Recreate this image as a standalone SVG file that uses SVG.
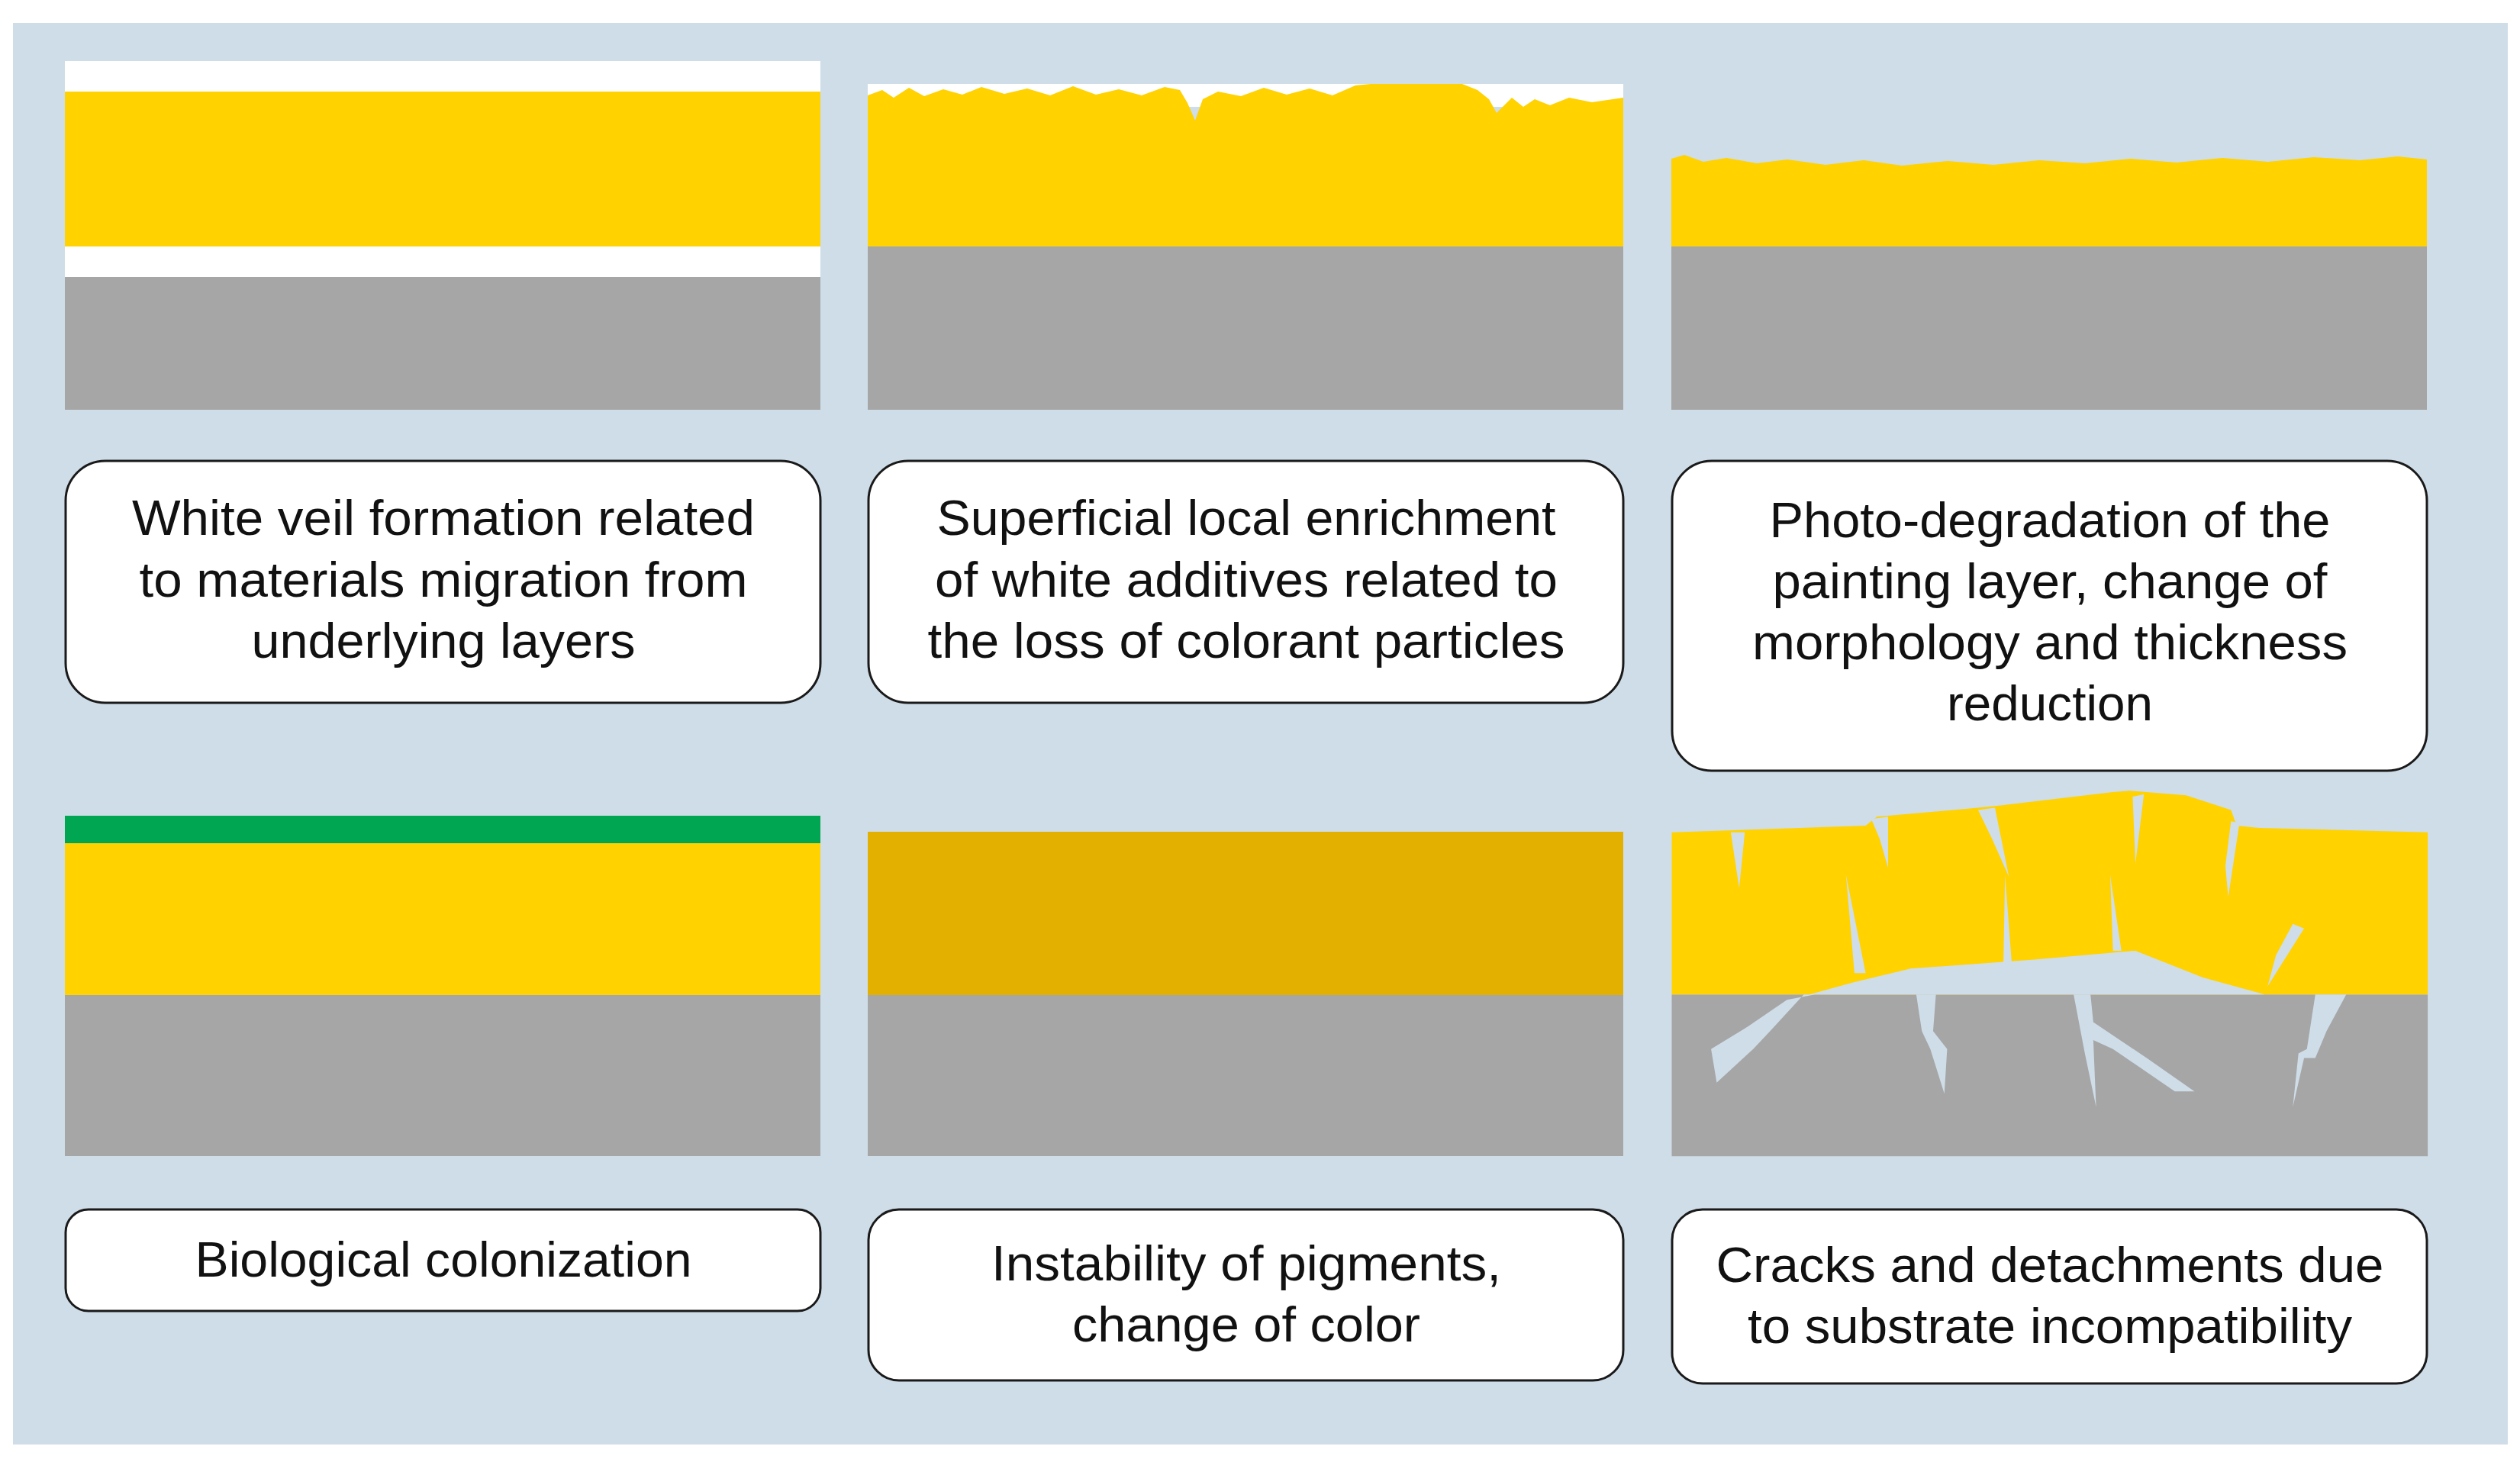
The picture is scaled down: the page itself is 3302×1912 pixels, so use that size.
<svg xmlns="http://www.w3.org/2000/svg" width="3302" height="1912" viewBox="0 0 3302 1912">
<style>
.bg{fill:#cfdde8}
.y{fill:#ffd200}
.g{fill:#a6a6a6}
.w{fill:#ffffff}
.lb{fill:#cfdde8}
.box{fill:#fff;stroke:#1a1a1a;stroke-width:3}
text{font-family:"Liberation Sans",Arial,sans-serif;font-size:64px;fill:#111;text-anchor:middle}
</style>
<rect width="3302" height="1912" fill="#fff"/>
<rect class="bg" x="17" y="30" width="3269" height="1863"/>
<g id="panel1">
<rect class="w" x="85" y="80" width="990" height="283"/>
<rect class="y" x="85" y="120" width="990" height="203"/>
<rect class="g" x="85" y="363" width="990" height="174"/>
</g>
<g id="panel2" transform="translate(-4,0)">
<rect class="w" x="1141" y="110" width="990" height="30"/>
<path class="y" d="M1141,125 L1160,118 L1175,128 L1195,115 L1215,126 L1240,117 L1265,124 L1290,114 L1320,123 L1350,116 L1380,125 L1410,113 L1440,124 L1470,117 L1500,125 L1530,114 L1550,118 L1560,135 L1570,158 L1580,130 L1600,120 L1630,126 L1660,115 L1690,124 L1720,116 L1750,125 L1780,112 L1800,110 L1920,110 L1940,118 L1955,130 L1965,148 L1975,138 L1985,128 L2000,140 L2015,130 L2035,138 L2060,128 L2090,134 L2131,128 L2131,323 L1141,323 Z"/>
<rect class="g" x="1141" y="323" width="990" height="214"/>
</g>
<g id="panel3" transform="translate(-8,0)">
<path class="y" d="M2198,208 L2215,203 L2240,212 L2270,207 L2310,214 L2350,209 L2400,216 L2450,210 L2500,217 L2560,211 L2620,216 L2680,210 L2740,214 L2800,208 L2860,213 L2920,207 L2980,212 L3040,206 L3100,210 L3150,205 L3188,209 L3188,323 L2198,323 Z"/>
<rect class="g" x="2198" y="323" width="990" height="214"/>
</g>
<g id="panel4">
<rect fill="#00a651" x="85" y="1069" width="990" height="36"/>
<rect class="y" x="85" y="1105" width="990" height="199"/>
<rect class="g" x="85" y="1304" width="990" height="211"/>
</g>
<g id="panel5" transform="translate(-4,0)">
<rect fill="#e3b000" x="1141" y="1090" width="990" height="214"/>
<rect class="g" x="1141" y="1304" width="990" height="211"/>
</g>
<g id="panel6" transform="translate(2150,1000) scale(0.7365,0.5855)">
<rect class="g" x="55" y="518" width="1345" height="362"/>
<path class="y" d="M55,155 L400,140 L420,120 L600,100 L640,95 L840,65 L870,62 L970,72 L1050,105 L1060,140 L1100,145 L1400,155 L1400,518 L55,518 Z"/>
<path class="lb" d="M1110,518 L1000,480 L880,420 L700,440 L480,460 L380,490 L300,518 L290,518 L230,600 L200,640 L135,715 L125,640 L190,590 L260,530 L310,518 Z"/>
<path class="lb" d="M160,155 L185,155 L175,280 Z M410,125 L440,120 L440,235 L425,170 Z M600,105 L630,100 L655,255 L625,170 Z M875,75 L895,70 L880,225 Z M1050,130 L1065,135 L1045,300 L1040,230 Z M1160,360 L1180,370 L1115,500 L1130,430 Z M365,250 L400,470 L380,470 Z M648,250 L660,450 L645,450 Z M835,250 L855,420 L840,420 Z"/>
<path class="lb" d="M490,518 L525,518 L520,600 L545,640 L540,740 L515,640 L500,600 Z M770,518 L800,518 L805,580 L900,660 L985,735 L950,735 L840,640 L805,620 L810,770 L790,650 Z M1200,518 L1255,518 L1220,600 L1200,660 L1180,660 L1160,770 L1170,650 L1185,640 Z"/>
</g>
<g id="box1"><rect class="box" x="86" y="604" width="989" height="317" rx="52"/>
<text x="581" y="701" textLength="816" lengthAdjust="spacingAndGlyphs">White veil formation related</text>
<text x="581" y="782" textLength="797" lengthAdjust="spacingAndGlyphs">to materials migration from</text>
<text x="581" y="862" textLength="503" lengthAdjust="spacingAndGlyphs">underlying  layers</text></g>
<g id="box2" transform="translate(-4,0)"><rect class="box" x="1142" y="604" width="989" height="317" rx="52"/>
<text x="1637" y="701" textLength="811" lengthAdjust="spacingAndGlyphs">Superficial local enrichment</text>
<text x="1637" y="782" textLength="816" lengthAdjust="spacingAndGlyphs">of white additives related to</text>
<text x="1637" y="862" textLength="835" lengthAdjust="spacingAndGlyphs">the loss of colorant particles</text></g>
<g id="box3" transform="translate(-8,0)"><rect class="box" x="2199" y="604" width="989" height="406" rx="52"/>
<text x="2694" y="704" textLength="735" lengthAdjust="spacingAndGlyphs">Photo-degradation of the</text>
<text x="2694" y="784" textLength="727" lengthAdjust="spacingAndGlyphs">painting layer, change of</text>
<text x="2694" y="864" textLength="780" lengthAdjust="spacingAndGlyphs">morphology and thickness</text>
<text x="2694" y="944" textLength="270" lengthAdjust="spacingAndGlyphs">reduction</text></g>
<g id="box4"><rect class="box" x="86" y="1585" width="989" height="133" rx="30"/>
<text x="581" y="1673" textLength="651" lengthAdjust="spacingAndGlyphs">Biological colonization</text></g>
<g id="box5" transform="translate(-4,0)"><rect class="box" x="1142" y="1585" width="989" height="224" rx="40"/>
<text x="1637" y="1678" textLength="668" lengthAdjust="spacingAndGlyphs">Instability  of pigments,</text>
<text x="1637" y="1758" textLength="456" lengthAdjust="spacingAndGlyphs">change of color</text></g>
<g id="box6" transform="translate(-8,0)"><rect class="box" x="2199" y="1585" width="989" height="228" rx="40"/>
<text x="2694" y="1680" textLength="875" lengthAdjust="spacingAndGlyphs">Cracks and detachments  due</text>
<text x="2694" y="1760" textLength="792" lengthAdjust="spacingAndGlyphs">to substrate incompatibility</text></g>
<g id="connectors"/>
</svg>
